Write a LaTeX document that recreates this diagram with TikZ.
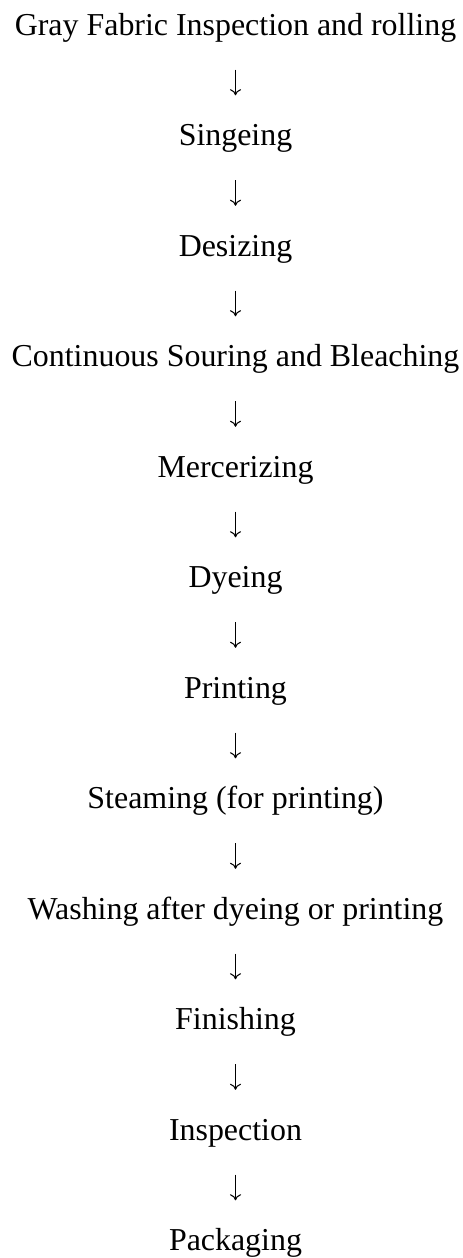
\documentclass[tikz,border=0pt]{standalone}
\usepackage{fontspec}
\setmainfont{Liberation Serif}
\usetikzlibrary{arrows.meta}
\tikzstyle{word} = [align=center, font=\fontsize{12}{14}\selectfont, inner sep=0pt, text height=8pt, text depth=0pt]
\tikzstyle{flow} = [-{To[length=2.3pt,width=4.2pt]}, line width=0.4pt, shorten <=12.8pt, shorten >=10.7pt]

\begin{document}
\begin{tikzpicture}[x=0.376pt, y=0.376pt, node distance=41.55pt]
\useasboundingbox (0,0) rectangle (463,-1258);

%nodes
\node (1) [word] at (235.5,-24.4) {Gray Fabric Inspection and rolling};
\node (2) [word, below of=1] {Singeing};
\node (3) [word, below of=2] {Desizing};
\node (4) [word, below of=3] {Continuous Souring and Bleaching};
\node (5) [word, below of=4] {Mercerizing};
\node (6) [word, below of=5] {Dyeing};
\node (7) [word, below of=6] {Printing};
\node (8) [word, below of=7] {Steaming (for printing)};
\node (9) [word, below of=8] {Washing after dyeing or printing};
\node (10) [word, below of=9] {Finishing};
\node (11) [word, below of=10] {Inspection};
\node (12) [word, below of=11] {Packaging};

%arrows
\foreach \a/\b in {1/2, 2/3, 3/4, 4/5, 5/6, 6/7, 7/8, 8/9, 9/10, 10/11, 11/12}
  \draw [flow] (\a) -- (\b);

\end{tikzpicture}
\end{document}
